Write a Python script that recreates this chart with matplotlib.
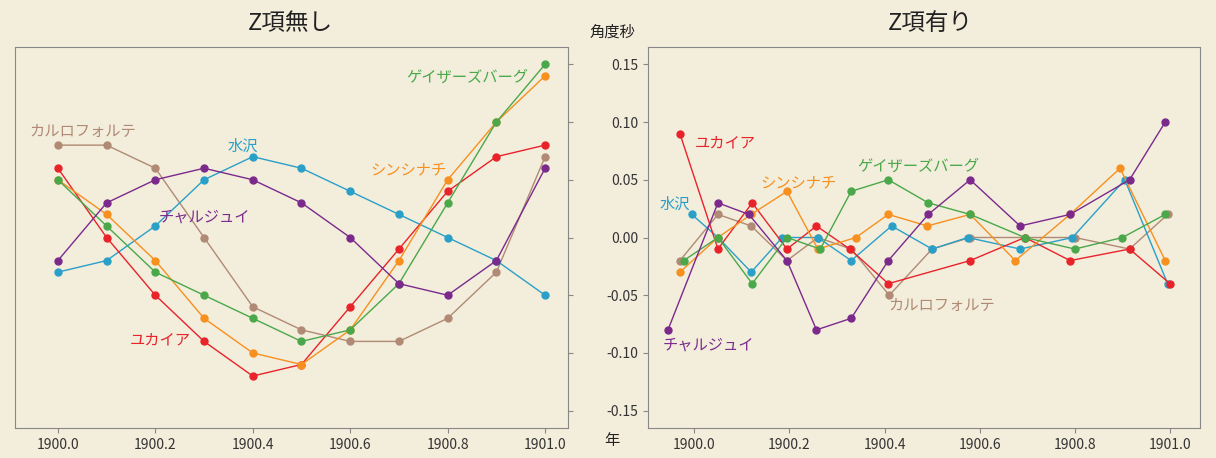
import matplotlib
matplotlib.use("Agg")
import matplotlib.pyplot as plt
import numpy as np

plt.rcParams['font.family'] = ['Noto Sans CJK JP', 'DejaVu Sans']

names = ["カルロフォルテ", "水沢", "ユカイア", "シンシナチ", "ゲイザーズバーグ", "チャルジュイ"]
colors = ["#b08a74", "#2aa0c8", "#e8232a", "#f7901e", "#4aa84a", "#7b2a8c"]

left_t = [1900.0, 1900.1, 1900.2, 1900.3, 1900.4, 1900.5, 1900.6, 1900.7, 1900.8, 1900.9, 1901.0]
left_vals = [
    [0.08, 0.08, 0.06, 0.0, -0.06, -0.08, -0.09, -0.09, -0.07, -0.03, 0.07],
    [-0.03, -0.02, 0.01, 0.05, 0.07, 0.06, 0.04, 0.02, 0.0, -0.02, -0.05],
    [0.06, 0.0, -0.05, -0.09, -0.12, -0.11, -0.06, -0.01, 0.04, 0.07, 0.08],
    [0.05, 0.02, -0.02, -0.07, -0.10, -0.11, -0.08, -0.02, 0.05, 0.10, 0.14],
    [0.05, 0.01, -0.03, -0.05, -0.07, -0.09, -0.08, -0.04, 0.03, 0.10, 0.15],
    [-0.02, 0.03, 0.05, 0.06, 0.05, 0.03, 0.0, -0.04, -0.05, -0.02, 0.06],
]

right_t = [
    [1899.97, 1900.05, 1900.12, 1900.195, 1900.26, 1900.33, 1900.41, 1900.5, 1900.58, 1900.695, 1900.80, 1900.915, 1900.995],
    [1899.995, 1900.05, 1900.12, 1900.185, 1900.26, 1900.33, 1900.415, 1900.5, 1900.575, 1900.685, 1900.795, 1900.905, 1900.995],
    [1899.97, 1900.05, 1900.122, 1900.195, 1900.257, 1900.327, 1900.408, 1900.58, 1900.695, 1900.79, 1900.915, 1901.0],
    [1899.97, 1900.05, 1900.12, 1900.195, 1900.26, 1900.34, 1900.408, 1900.49, 1900.58, 1900.675, 1900.79, 1900.895, 1900.99],
    [1899.978, 1900.05, 1900.122, 1900.195, 1900.265, 1900.33, 1900.408, 1900.492, 1900.58, 1900.695, 1900.8, 1900.9, 1900.99],
    [1899.945, 1900.05, 1900.115, 1900.195, 1900.257, 1900.33, 1900.408, 1900.492, 1900.58, 1900.685, 1900.79, 1900.915, 1900.99],
]
right_vals = [
    [-0.02, 0.02, 0.01, -0.02, 0.0, -0.01, -0.05, -0.01, 0.0, 0.0, 0.0, -0.01, 0.02],
    [0.02, 0.0, -0.03, 0.0, 0.0, -0.02, 0.01, -0.01, 0.0, -0.01, 0.0, 0.05, -0.04],
    [0.09, -0.01, 0.03, -0.01, 0.01, -0.01, -0.04, -0.02, 0.0, -0.02, -0.01, -0.04],
    [-0.03, 0.0, 0.02, 0.04, -0.01, 0.0, 0.02, 0.01, 0.02, -0.02, 0.02, 0.06, -0.02],
    [-0.02, 0.0, -0.04, 0.0, -0.01, 0.04, 0.05, 0.03, 0.02, 0.0, -0.01, 0.0, 0.02],
    [-0.08, 0.03, 0.02, -0.02, -0.08, -0.07, -0.02, 0.02, 0.05, 0.01, 0.02, 0.05, 0.10],
]

bg = "#f3eddc"
fig = plt.figure(figsize=(12.16, 4.58), dpi=100, facecolor=bg)
axL = fig.add_axes([15/1216, 30/458, 553/1216, 381/458])
axR = fig.add_axes([648/1216, 30/458, 552/1216, 381/458])
ticks = [-0.15, -0.10, -0.05, 0.0, 0.05, 0.10, 0.15]
for ax in (axL, axR):
    ax.set_facecolor(bg)
    ax.set_ylim(-0.165, 0.165)
    ax.set_xticks([1900.0, 1900.2, 1900.4, 1900.6, 1900.8, 1901.0])
    ax.set_xticklabels(["1900.0", "1900.2", "1900.4", "1900.6", "1900.8", "1901.0"], fontsize=10, color="#333")
    for s in ax.spines.values():
        s.set_color("#888")
    ax.tick_params(colors="#888", labelcolor="#333")
axL.set_xlim(1899.912, 1901.047)
axR.set_xlim(1899.903, 1901.063)
axL.set_yticks(ticks)
axL.yaxis.tick_right()
axL.set_yticklabels([])
axR.set_yticks(ticks)
axR.set_yticklabels(["-0.15", "-0.10", "-0.05", "0.00", "0.05", "0.10", "0.15"], fontsize=10)

for i in range(6):
    axL.plot(left_t, left_vals[i], color=colors[i], lw=1, marker='o', ms=5)
    axR.plot(right_t[i], right_vals[i], color=colors[i], lw=1, marker='o', ms=5)

axL.text(1900.05, 0.088, names[0], color=colors[0], fontsize=11, ha='center')
axL.text(1900.38, 0.075, names[1], color=colors[1], fontsize=11, ha='center')
axL.text(1900.21, -0.093, names[2], color=colors[2], fontsize=11, ha='center')
axL.text(1900.72, 0.055, names[3], color=colors[3], fontsize=11, ha='center')
axL.text(1900.84, 0.135, names[4], color=colors[4], fontsize=11, ha='center')
axL.text(1900.30, 0.014, names[5], color=colors[5], fontsize=11, ha='center')

axR.text(1900.065, 0.078, names[2], color=colors[2], fontsize=11, ha='center')
axR.text(1899.96, 0.025, names[1], color=colors[1], fontsize=11, ha='center')
axR.text(1900.22, 0.043, names[3], color=colors[3], fontsize=11, ha='center')
axR.text(1900.47, 0.058, names[4], color=colors[4], fontsize=11, ha='center')
axR.text(1900.52, -0.063, names[0], color=colors[0], fontsize=11, ha='center')
axR.text(1900.03, -0.097, names[5], color=colors[5], fontsize=11, ha='center')

fig.text(290/1216, 1-24/458, "Z項無し", fontsize=17, ha='center', va='center', color="#222")
fig.text(930/1216, 1-24/458, "Z項有り", fontsize=17, ha='center', va='center', color="#222")
fig.text(612/1216, 1-32/458, "角度秒", fontsize=11, ha='center', va='center', color="#222")
fig.text(612/1216, 1-440/458, "年", fontsize=11, ha='center', va='center', color="#222")

fig.savefig("out.png", dpi=100, facecolor=bg)
